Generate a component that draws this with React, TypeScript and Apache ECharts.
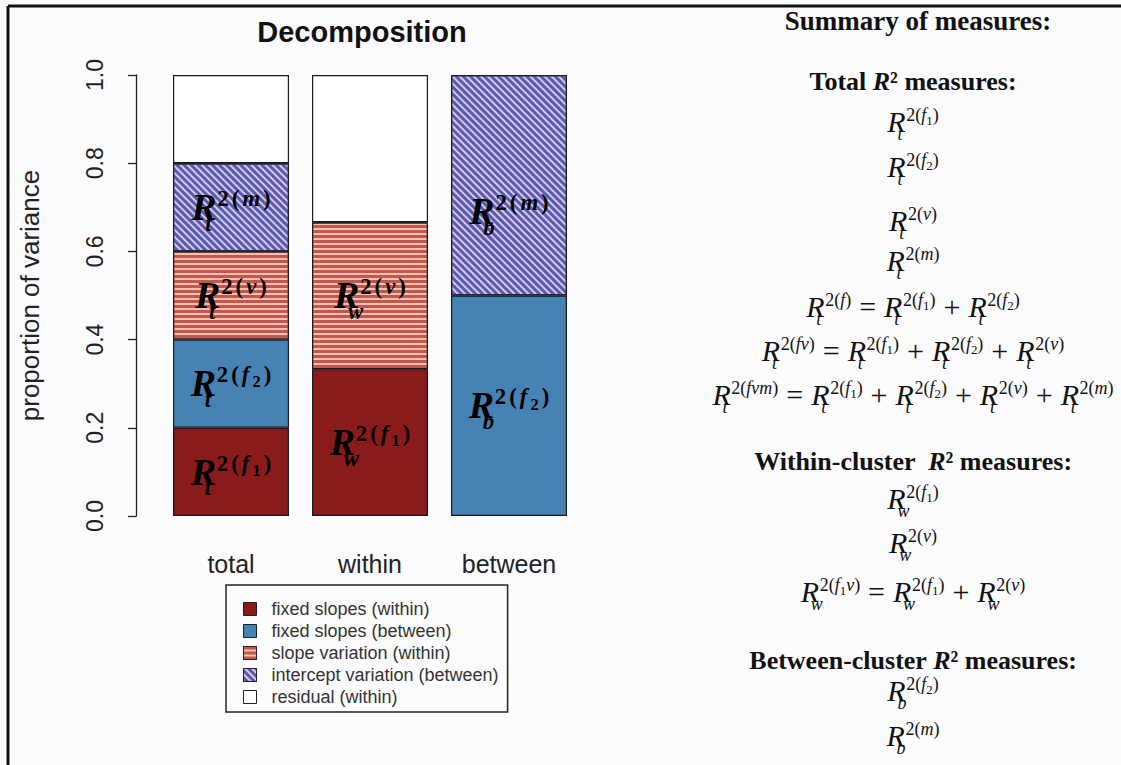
import React, { useEffect, useRef } from 'react';
import * as echarts from 'echarts';

// ---------------- data ----------------
const categories = ['total', 'within', 'between'];
const seriesNames = [
  'fixed slopes (within)',
  'fixed slopes (between)',
  'slope variation (within)',
  'intercept variation (between)',
  'residual (within)',
];
const fixedSlopesWithin: (number | string)[] = [0.2, 0.333, '-'];
const fixedSlopesBetween: (number | string)[] = [0.2, '-', 0.5];
const slopeVariationWithin: (number | string)[] = [0.2, 0.333, '-'];
const interceptVariationBetween: (number | string)[] = [0.2, '-', 0.5];
const residualWithin: (number | string)[] = [0.2, 0.334, '-'];

const yMin = 0;
const yMax = 1;
const yStep = 0.2;
const yName = 'proportion of variance';
const chartTitle = 'Decomposition';

// labels drawn inside the bars: category, value (centre), measure
const barLabelCategory = ['total', 'total', 'total', 'total', 'within', 'within', 'between', 'between'];
const barLabelValue = [0.1, 0.3, 0.5, 0.7, 0.1667, 0.5, 0.25, 0.69];
const barLabelMeasure = ['t:f1', 't:f2', 't:v', 't:m', 'w:f1', 'w:v', 'b:f2', 'b:m'];

// summary text on the right
const summaryTitle = 'Summary of measures:';
const headingPrefix = ['Total ', 'Within-cluster  ', 'Between-cluster '];
const headingSuffix = '\u00b2 measures:';
const totalRows = [
  't:f1',
  't:f2',
  't:v',
  't:m',
  't:f = t:f1 + t:f2',
  't:fv = t:f1 + t:f2 + t:v',
  't:fvm = t:f1 + t:f2 + t:v + t:m',
];
const withinRows = ['w:f1', 'w:v', 'w:f1v = w:f1 + w:v'];
const betweenRows = ['b:f2', 'b:m'];

// ---------------- layout ----------------
const SANS = 'Liberation Sans, Arial, Helvetica, sans-serif';
const SERIF = 'Liberation Serif, Times New Roman, Times, serif';
const rightCenterX = 913;
const summaryY = 21;
const headingY = [81, 461, 660];
const totalRowY = [122, 167, 221, 261, 307, 351, 395];
const withinRowY = [499, 543, 592];
const betweenRowY = [691, 736];

type Run = { text: string; size: number; italic: boolean; bold: boolean; x: number; base: number };

let measureCtx: CanvasRenderingContext2D | null = null;
function fontStr(size: number, italic: boolean, bold: boolean) {
  return `${italic ? 'italic ' : ''}${bold ? 'bold ' : ''}${size}px ${SERIF}`;
}
function measure(text: string, size: number, italic: boolean, bold: boolean) {
  if (!measureCtx) measureCtx = document.createElement('canvas').getContext('2d');
  measureCtx!.font = fontStr(size, italic, bold);
  return measureCtx!.measureText(text).width;
}

function pushR(runs: Run[], x0: number, sub: string, key: string, S: number, bold: boolean, sp: number) {
  const wR = measure('R', S, true, bold);
  runs.push({ text: 'R', size: S, italic: true, bold, x: x0, base: 0 });
  const subS = S * 0.6;
  const subX = x0 + wR * 0.55;
  runs.push({ text: sub, size: subS, italic: true, bold, x: subX, base: S * 0.29 });
  const subEnd = subX + measure(sub, subS, true, bold);
  const supS = S * 0.6;
  const supBase = -S * 0.36;
  let x = x0 + wR + S * 0.02;
  const pieces: { t: string; it: boolean; small: boolean }[] = [
    { t: '2', it: false, small: false },
    { t: '(', it: false, small: false },
  ];
  for (const ch of key) pieces.push(/\d/.test(ch) ? { t: ch, it: false, small: true } : { t: ch, it: true, small: false });
  pieces.push({ t: ')', it: false, small: false });
  for (const p of pieces) {
    const size = p.small ? supS * 0.72 : supS;
    const base = p.small ? supBase + supS * 0.22 : supBase;
    runs.push({ text: p.t, size, italic: p.it, bold, x, base });
    x += measure(p.t, size, p.it, bold) + sp;
  }
  x -= sp;
  return Math.max(x, subEnd);
}

function buildFormula(expr: string, S: number, bold: boolean, sp: number, opGap: number) {
  const runs: Run[] = [];
  let x = 0;
  for (const tok of expr.split(' ')) {
    if (tok === '=' || tok === '+') {
      x += opGap;
      runs.push({ text: tok, size: S, italic: false, bold: false, x, base: 0 });
      x += measure(tok, S, false, false) + opGap;
    } else {
      const [sub, key] = tok.split(':');
      x = pushR(runs, x, sub, key, S, bold, sp);
    }
  }
  return { runs, width: x };
}

function formulaGraphic(expr: string, cx: number, baseY: number, S: number, bold: boolean, sp: number, opGap: number, fill: string) {
  const { runs, width } = buildFormula(expr, S, bold, sp, opGap);
  const left = cx - width / 2;
  return runs.map((r) => ({
    type: 'text',
    x: left + r.x,
    y: baseY + r.base - 0.34 * r.size,
    silent: true,
    z: 100,
    style: {
      text: r.text,
      font: fontStr(r.size, r.italic, r.bold),
      fill,
      textAlign: 'left',
      textVerticalAlign: 'middle',
    },
  }));
}

const barStyle = { borderColor: '#1a1a1a', borderWidth: 1.2 };

const option: any = {
  animation: false,
  backgroundColor: '#fcfcfe',
  title: {
    text: chartTitle,
    left: 362,
    top: 17,
    padding: 0,
    textAlign: 'center',
    textStyle: { fontSize: 29, fontWeight: 'bold', fontFamily: SANS, color: '#111' },
  },
  grid: { left: 161.5, right: 542.5, top: 75, bottom: 249, containLabel: false },
  legend: {
    orient: 'vertical',
    left: 226,
    top: 585,
    padding: [15, 9, 6, 17],
    itemWidth: 13,
    itemHeight: 13,
    itemGap: 4,
    borderColor: '#222',
    borderWidth: 1.5,
    borderRadius: 0,
    icon: 'rect',
    selectedMode: false,
    itemStyle: { borderColor: '#222', borderWidth: 1 },
    textStyle: { fontSize: 18, fontFamily: SANS, color: '#333', padding: [0, 0, 0, 10] },
    data: seriesNames,
  },
  xAxis: {
    type: 'category',
    data: categories,
    axisLine: { show: false },
    axisTick: { show: false },
    splitLine: { show: false },
    axisLabel: { interval: 0, margin: 35, fontSize: 25, fontFamily: SANS, color: '#222' },
  },
  yAxis: {
    type: 'value',
    min: yMin,
    max: yMax,
    interval: yStep,
    offset: 25.5,
    splitLine: { show: false },
    axisLine: { show: true, lineStyle: { color: '#222', width: 1.3 } },
    axisTick: { show: true, length: 8, lineStyle: { color: '#222', width: 1.3 } },
    axisLabel: {
      rotate: 90,
      margin: 30,
      fontSize: 23,
      fontFamily: SANS,
      color: '#222',
      formatter: (v: number) => v.toFixed(1),
    },
    name: yName,
    nameLocation: 'middle',
    nameRotate: 90,
    nameGap: 93,
    nameTextStyle: { fontSize: 26, fontFamily: SANS, color: '#222' },
  },
  series: [
    {
      name: seriesNames[0],
      type: 'bar',
      stack: 'v',
      barWidth: 116,
      data: fixedSlopesWithin,
      itemStyle: { ...barStyle, color: '#8b1a1a' },
    },
    {
      name: seriesNames[1],
      type: 'bar',
      stack: 'v',
      barWidth: 116,
      data: fixedSlopesBetween,
      itemStyle: { ...barStyle, color: '#4682b4' },
    },
    {
      name: seriesNames[2],
      type: 'bar',
      stack: 'v',
      barWidth: 116,
      data: slopeVariationWithin,
      itemStyle: {
        ...barStyle,
        color: '#f2c2b6',
        decal: { symbol: 'rect', symbolSize: 1, dashArrayX: [1, 0], dashArrayY: [2.2, 2], rotation: 0, color: '#c4564b' },
      },
    },
    {
      name: seriesNames[3],
      type: 'bar',
      stack: 'v',
      barWidth: 116,
      data: interceptVariationBetween,
      itemStyle: {
        ...barStyle,
        color: '#d4cae6',
        decal: { symbol: 'rect', symbolSize: 1, dashArrayX: [1, 0], dashArrayY: [2.4, 1.6], rotation: Math.PI / 4, color: '#5a5ab4' },
      },
    },
    {
      name: seriesNames[4],
      type: 'bar',
      stack: 'v',
      barWidth: 116,
      data: residualWithin,
      itemStyle: { ...barStyle, color: '#ffffff' },
    },
  ],
};

function buildGraphics(chart: echarts.ECharts) {
  const els: any[] = [];
  // frame
  els.push({ type: 'line', shape: { x1: 8, y1: 6, x2: 1121, y2: 6 }, style: { stroke: '#111', lineWidth: 3 }, silent: true });
  els.push({ type: 'line', shape: { x1: 8, y1: 6, x2: 8, y2: 765 }, style: { stroke: '#111', lineWidth: 3 }, silent: true });

  // labels in the bars
  const BS = 38;
  barLabelMeasure.forEach((m, i) => {
    const ci = categories.indexOf(barLabelCategory[i]);
    const p = chart.convertToPixel({ seriesIndex: 0 }, [ci, barLabelValue[i]]) as number[];
    els.push(...formulaGraphic(m, p[0], p[1] + 0.33 * BS, BS, true, 3, 6, '#000'));
  });

  // summary panel
  els.push({
    type: 'text',
    x: rightCenterX + 5,
    y: summaryY,
    silent: true,
    style: {
      text: summaryTitle,
      font: `bold 27px ${SERIF}`,
      fill: '#111',
      textAlign: 'center',
      textVerticalAlign: 'middle',
    },
  });
  headingPrefix.forEach((pre, i) => {
    els.push({
      type: 'text',
      x: rightCenterX,
      y: headingY[i],
      silent: true,
      style: {
        text: `{b|${pre}}{r|R}{b|${headingSuffix}}`,
        textAlign: 'center',
        textVerticalAlign: 'middle',
        rich: {
          b: { fontFamily: SERIF, fontWeight: 'bold', fontSize: 26, fill: '#111' },
          r: { fontFamily: SERIF, fontWeight: 'bold', fontStyle: 'italic', fontSize: 26, fill: '#111' },
        },
      },
    });
  });
  const RS = 30;
  const rowSets: [string[], number[]][] = [
    [totalRows, totalRowY],
    [withinRows, withinRowY],
    [betweenRows, betweenRowY],
  ];
  rowSets.forEach(([rows, ys]) => {
    rows.forEach((r, i) => {
      els.push(...formulaGraphic(r, rightCenterX, ys[i] + 0.33 * RS, RS, false, 0, 8, '#111'));
    });
  });
  return els;
}

export default function App() {
  const ref = useRef<HTMLDivElement>(null);
  useEffect(() => {
    const chart = echarts.init(ref.current!, null, { renderer: 'svg' });
    chart.setOption(option);
    chart.setOption({ graphic: buildGraphics(chart) });
    return () => chart.dispose();
  }, []);
  return <div ref={ref} style={{ position: 'absolute', left: 0, top: 0, width: 1121, height: 765 }} />;
}
